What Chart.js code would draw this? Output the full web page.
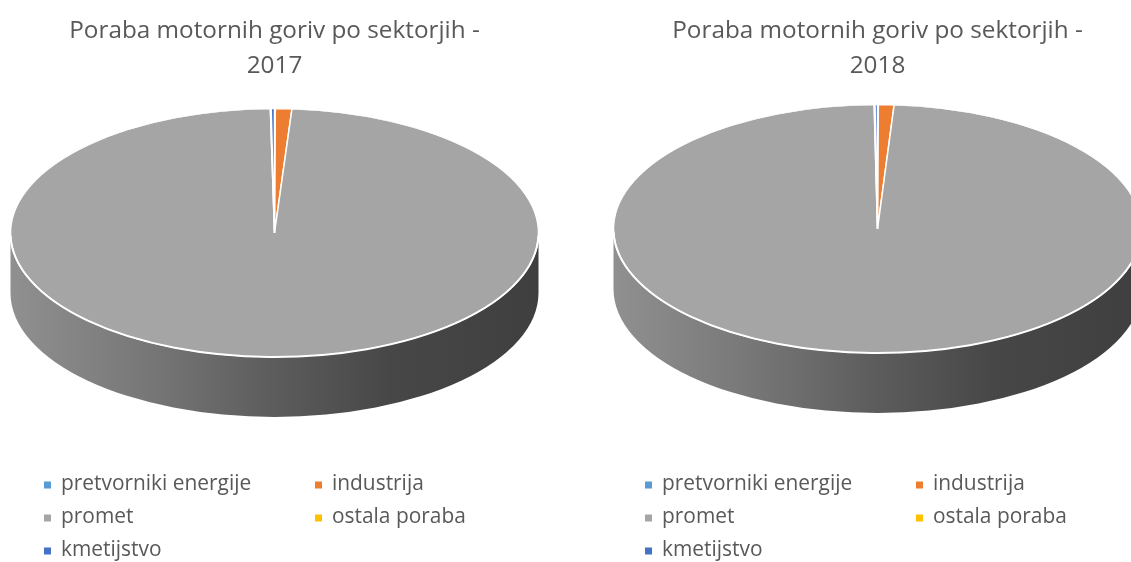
<!DOCTYPE html>
<html>
<head>
<meta charset="utf-8">
<script src="https://cdn.jsdelivr.net/npm/chart.js@4"></script>
<style>
  html, body { margin: 0; padding: 0; background: #ffffff; }
  #wrap { position: relative; width: 1131px; height: 562px; overflow: hidden; background: #ffffff; }
  .box { position: absolute; top: 0; height: 562px; }
  #b1 { left: 0; width: 565px; }
  #b2 { left: 565px; width: 566px; }
</style>
</head>
<body>
<div id="wrap">
  <div class="box" id="b1"><canvas id="c1"></canvas></div>
  <div class="box" id="b2"><canvas id="c2"></canvas></div>
</div>
<script>
// ---- data ----
const categories = ['pretvorniki energije', 'industrija', 'promet', 'ostala poraba', 'kmetijstvo'];
const values2017 = [0.05, 1.0, 98.7, 0.05, 0.2];
const values2018 = [0.05, 0.95, 98.8, 0.05, 0.15];
const title2017 = ['Poraba motornih goriv po sektorjih -', '2017'];
const title2018 = ['Poraba motornih goriv po sektorjih -', '2018'];
const sliceColors = ['#5B9BD5', '#ED7D31', '#A5A5A5', '#FFC000', '#4472C4'];

const TEXT_COLOR = '#595959';
const FONT = '"Open Sans", "Noto Sans", sans-serif';

function shade(hex, f) {
  const n = parseInt(hex.slice(1), 16);
  const r = Math.round(((n >> 16) & 255) * f);
  const g = Math.round(((n >> 8) & 255) * f);
  const b = Math.round((n & 255) * f);
  return 'rgb(' + r + ',' + g + ',' + b + ')';
}

// 3D tilt: draws the side wall, then squashes the library's arcs vertically
const pie3d = {
  id: 'pie3d',
  beforeDatasetsDraw(chart, args, opts) {
    const meta = chart.getDatasetMeta(0);
    const arcs = meta.data;
    if (!arcs.length) return;
    const p0 = arcs[0].getProps(['x', 'y', 'outerRadius'], true);
    const cx = p0.x, cy = p0.y, r = p0.outerRadius;
    const ry = r * opts.tilt, depth = opts.depth;
    const ctx = chart.ctx;
    ctx.save();
    arcs.forEach((arc) => {
      const p = arc.getProps(['startAngle', 'endAngle'], true);
      const base = arc.options.backgroundColor;
      for (let k = -1; k <= 1; k++) {
        const a1 = Math.max(p.startAngle + 2 * Math.PI * k, 0);
        const a2 = Math.min(p.endAngle + 2 * Math.PI * k, Math.PI);
        if (a2 <= a1) continue;
        ctx.beginPath();
        ctx.ellipse(cx, cy, r, ry, 0, a1, a2, false);
        ctx.lineTo(cx + r * Math.cos(a2), cy + ry * Math.sin(a2) + depth);
        ctx.ellipse(cx, cy + depth, r, ry, 0, a2, a1, true);
        ctx.closePath();
        const g = ctx.createLinearGradient(cx - r, 0, cx + r, 0);
        g.addColorStop(0, shade(base, 0.87));
        g.addColorStop(0.25, shade(base, 0.73));
        g.addColorStop(0.5, shade(base, 0.56));
        g.addColorStop(0.72, shade(base, 0.43));
        g.addColorStop(1, shade(base, 0.38));
        ctx.fillStyle = g;
        ctx.fill();
      }
    });
    ctx.restore();
    ctx.save();
    ctx.translate(0, cy);
    ctx.scale(1, opts.tilt);
    ctx.translate(0, -cy);
  },
  afterDatasetsDraw(chart, args, opts) {
    const meta = chart.getDatasetMeta(0);
    if (!meta.data.length) return;
    const ctx = chart.ctx;
    ctx.restore();
    const p0 = meta.data[0].getProps(['x', 'y', 'outerRadius'], true);
    ctx.save();
    ctx.beginPath();
    ctx.ellipse(p0.x, p0.y, p0.outerRadius, p0.outerRadius * opts.tilt, 0, 0.02, Math.PI - 0.02, false);
    ctx.strokeStyle = '#ffffff';
    ctx.lineWidth = 2;
    ctx.stroke();
    ctx.restore();
  }
};

// two-column legend below the pie
const gridLegend = {
  id: 'gridLegend',
  afterDraw(chart, args, opts) {
    const ctx = chart.ctx;
    const labels = chart.data.labels;
    const colors = chart.data.datasets[0].backgroundColor;
    ctx.save();
    ctx.font = opts.fontSize + 'px ' + FONT;
    ctx.textBaseline = 'alphabetic';
    ctx.textAlign = 'left';
    labels.forEach((lab, i) => {
      const col = i % 2, row = Math.floor(i / 2);
      const x = opts.x + col * opts.colWidth;
      const y = opts.y + row * opts.rowHeight;
      ctx.fillStyle = colors[i];
      ctx.fillRect(x, y - 3.5, 7, 7);
      ctx.fillStyle = TEXT_COLOR;
      ctx.fillText(lab, x + 17, y + 5);
    });
    ctx.restore();
  }
};

function makeChart(id, values, titleLines, pad, legendX) {
  return new Chart(document.getElementById(id), {
    type: 'pie',
    data: {
      labels: categories,
      datasets: [{
        data: values,
        backgroundColor: sliceColors,
        borderColor: '#ffffff',
        borderWidth: 1.5,
        radius: 264,
        clip: false
      }]
    },
    options: {
      responsive: true,
      maintainAspectRatio: false,
      animation: false,
      events: [],
      layout: { padding: pad },
      plugins: {
        legend: { display: false },
        tooltip: { enabled: false },
        title: {
          display: true,
          text: titleLines,
          color: TEXT_COLOR,
          font: { family: FONT, size: 24.3, weight: 'normal', lineHeight: '35.5px' },
          padding: { top: 13, bottom: 16 }
        },
        pie3d: { tilt: 124 / 264, depth: 60 },
        gridLegend: { x: legendX, y: 485, colWidth: 271, rowHeight: 33, fontSize: 20.9 }
      }
    },
    plugins: [pie3d, gridLegend]
  });
}

makeChart('c1', values2017, title2017, { left: 0, right: 16, top: 0, bottom: 196 }, 44);
makeChart('c2', values2018, title2018, { left: 59, right: 0, top: 0, bottom: 204 }, 80);
</script>
</body>
</html>
